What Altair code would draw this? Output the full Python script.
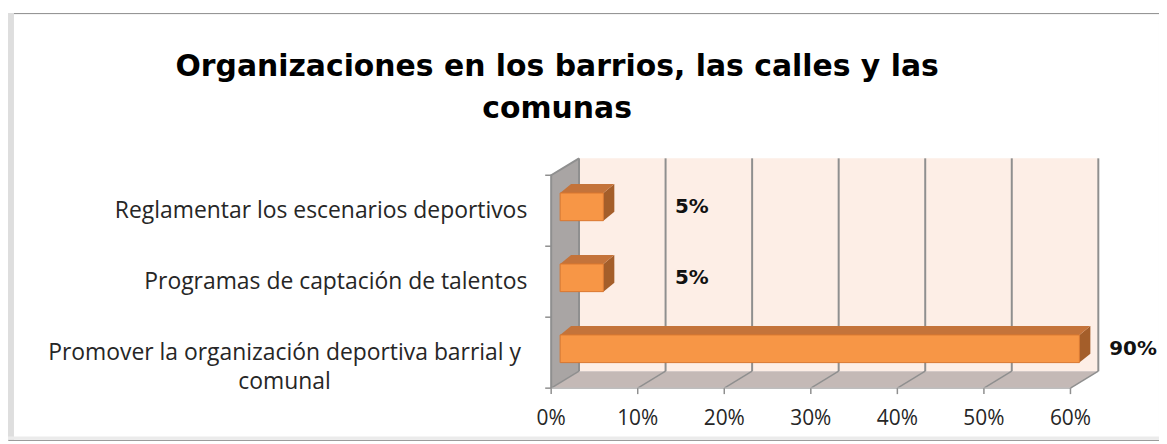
import altair as alt
import pandas as pd

# ---------------- data ----------------
categories = [
    "Reglamentar los escenarios deportivos",
    "Programas de captación de talentos",
    "Promover la organización deportiva barrial y\ncomunal",
]
values = [5, 5, 90]
value_labels = ["5%", "5%", "90%"]
x_ticks = [0, 10, 20, 30, 40, 50, 60]
x_tick_labels = ["0%", "10%", "20%", "30%", "40%", "50%", "60%"]
title_lines = ["Organizaciones en los barrios, las calles y las", "comunas"]

# ---------------- layout (page pixels) ----------------
LEFT, TOP = 8, 12
W, H = 1157, 429
X0_PX, XMAX_PX = 554, 1076
Y0_PX, YTOP_PX = 389, 175
AXIS_MAX = x_ticks[-1]
N = len(categories)
PX_X = (XMAX_PX - X0_PX) / AXIS_MAX
PX_Y = (Y0_PX - YTOP_PX) / N
xdom = [(LEFT - X0_PX) / PX_X, (LEFT + W - X0_PX) / PX_X]
ydom = [(Y0_PX - (TOP + H)) / PX_Y, (Y0_PX - TOP) / PX_Y]
xs = alt.Scale(domain=xdom, nice=False, zero=False)
ys = alt.Scale(domain=ydom, nice=False, zero=False)

DX, DY = 28 / PX_X, 17 / PX_Y          # wall depth
BX = 9 / PX_X                          # bar front offset
BY0, BY1 = 0.36, 0.75                  # bar within band
TDX, TDY = 11 / PX_X, 9 / PX_Y         # bar depth

ORANGE = "#F79646"
TOPC = "#C4733A"
SIDEC = "#A45E2A"
WALL = "#FDEEE6"
LWALL = "#A9A5A4"
FLOOR = "#C4B9B6"
GRID = "#8F8F8F"
TEXT = "#262626"

def X(field, **kw):
    return alt.X(field, type="quantitative", scale=xs, axis=None, **kw)

def Y(field, **kw):
    return alt.Y(field, type="quantitative", scale=ys, axis=None, **kw)

# ---------------- tables ----------------
rows = []
for k, (c, v, lab) in enumerate(zip(categories, values, value_labels)):
    i = N - 1 - k
    shown = min(v, AXIS_MAX)
    rows.append(dict(cat=c, value=v, lab=lab, i=i, shown=shown,
                     x0=BX, x1=BX + shown, y0=i + BY0, y1=i + BY1,
                     ym=i + (BY0 + BY1) / 2, xe=BX + shown + TDX, yc=i + 0.5))
bars = pd.DataFrame(rows)

top_rows, side_rows = [], []
for r in rows:
    top_rows.append(dict(cat=r["cat"], y=r["y1"], xa=r["x0"], xb=r["x1"]))
    top_rows.append(dict(cat=r["cat"], y=r["y1"] + TDY, xa=r["x0"] + TDX, xb=r["x1"] + TDX))
    side_rows.append(dict(cat=r["cat"], x=r["x1"], ya=r["y0"], yb=r["y1"]))
    side_rows.append(dict(cat=r["cat"], x=r["x1"] + TDX, ya=r["y0"] + TDY, yb=r["y1"] + TDY))
tops = pd.DataFrame(top_rows)
sides = pd.DataFrame(side_rows)

ticks = pd.DataFrame({"t": x_ticks, "lab": x_tick_labels})
bands = pd.DataFrame({"b": list(range(N + 1))})
one = pd.DataFrame({"a": [0]})

# ---------------- chart frame shadow ----------------
shadow = alt.Chart(one).mark_rule(color="#DEDEDE", strokeWidth=6).encode(
    x=alt.value(3), y=alt.value(0), y2=alt.value(H))
shadow_b = alt.Chart(one).mark_rule(color="#EBEBEB", strokeWidth=3).encode(
    x=alt.value(0), x2=alt.value(W), y=alt.value(H - 2))

# ---------------- walls ----------------
back_wall = alt.Chart(one).mark_rect(color=WALL).encode(
    x=alt.datum(DX, type="quantitative", scale=xs, axis=None),
    x2=alt.datum(AXIS_MAX + DX),
    y=alt.datum(DY, type="quantitative", scale=ys, axis=None),
    y2=alt.datum(N + DY),
)

left_wall = alt.Chart(pd.DataFrame({"x": [0, DX], "ya": [0, DY], "yb": [N, N + DY]})).mark_area(
    color=LWALL, orient="vertical").encode(x=X("x"), y=Y("ya"), y2="yb")

floor = alt.Chart(pd.DataFrame({"y": [0, DY], "xa": [0, DX], "xb": [AXIS_MAX, AXIS_MAX + DX]})).mark_area(
    color=FLOOR, orient="horizontal").encode(y=Y("y"), x=X("xa"), x2="xb")

back_grid = alt.Chart(ticks).transform_calculate(xg=f"datum.t + {DX}").mark_rule(
    color=GRID, strokeWidth=2).encode(
    x=X("xg:Q"),
    y=alt.datum(DY, type="quantitative", scale=ys, axis=None),
    y2=alt.datum(N + DY),
)

floor_diag = alt.Chart(ticks).transform_calculate(xg=f"datum.t + {DX}").mark_rule(
    color=GRID, strokeWidth=1.5).encode(
    x=X("t"), x2="xg:Q",
    y=alt.datum(0, type="quantitative", scale=ys, axis=None), y2=alt.datum(DY))

x_tick_marks = alt.Chart(ticks).mark_rule(color=GRID, strokeWidth=1.5).encode(
    x=X("t"),
    y=alt.datum(0, type="quantitative", scale=ys, axis=None),
    y2=alt.datum(-6 / PX_Y))

x_tick_text = alt.Chart(ticks).mark_text(
    align="center", baseline="middle", dy=31, font="Open Sans", fontSize=21, color=TEXT).encode(
    x=X("t"), y=alt.datum(0, type="quantitative", scale=ys, axis=None), text="lab:N")

front_floor_edge = alt.Chart(one).mark_rule(color="#BDBDBD", strokeWidth=1.5).encode(
    x=alt.datum(0, type="quantitative", scale=xs, axis=None), x2=alt.datum(AXIS_MAX),
    y=alt.datum(0, type="quantitative", scale=ys, axis=None))

left_edges = alt.Chart(pd.DataFrame({"x": [DX, 0, 0], "y": [N + DY, N, 0], "o": [0, 1, 2]})).mark_line(
    color=GRID, strokeWidth=2).encode(x=X("x"), y=Y("y"), order="o:O")

y_ticks = alt.Chart(bands).mark_rule(color=GRID, strokeWidth=1.5).encode(
    y=Y("b"), x=alt.datum(-6 / PX_X, type="quantitative", scale=xs, axis=None), x2=alt.datum(0))

# ---------------- bars ----------------
side_faces = alt.Chart(sides).mark_area(color=SIDEC, orient="vertical").encode(
    x=X("x"), y=Y("ya"), y2="yb", detail="cat:N")
top_faces = alt.Chart(tops).mark_area(color=TOPC, orient="horizontal").encode(
    y=Y("y"), x=X("xa"), x2="xb", detail="cat:N")
front_faces = alt.Chart(bars).mark_rect(color=ORANGE, stroke="#D9772F", strokeWidth=1).encode(
    x=X("x0"), x2="x1", y=Y("y0"), y2="y1")

# ---------------- labels ----------------
val_in = alt.Chart(bars).transform_filter(f"datum.value <= {AXIS_MAX}").mark_text(
    align="left", baseline="middle", dx=61, font="DejaVu Sans", fontWeight="bold", fontSize=20,
    color="#111").encode(x=X("xe"), y=Y("ym"), text="lab:N")
val_out = alt.Chart(bars).transform_filter(f"datum.value > {AXIS_MAX}").mark_text(
    align="left", baseline="middle", dx=19, font="DejaVu Sans", fontWeight="bold", fontSize=20,
    color="#111").encode(x=X("xe"), y=Y("ym"), text="lab:N")

single = bars[~bars["cat"].str.contains("\n")]
multi = bars[bars["cat"].str.contains("\n")]
cat_single = alt.Chart(single).mark_text(
    align="right", baseline="middle", dx=-24, font="Open Sans", fontSize=23, color=TEXT).encode(
    x=alt.datum(0, type="quantitative", scale=xs, axis=None), y=Y("yc"), text="cat:N")
cat_multi = alt.Chart(multi).mark_text(
    align="center", baseline="middle", dx=-268, font="Open Sans", fontSize=23, color=TEXT,
    lineBreak="\n", lineHeight=30).encode(
    x=alt.datum(0, type="quantitative", scale=xs, axis=None), y=Y("yc"), text="cat:N")

title = alt.Chart(pd.DataFrame({"t": ["\n".join(title_lines)]})).mark_text(
    align="center", baseline="alphabetic", font="DejaVu Sans", fontWeight="bold", fontSize=30,
    color="#000", lineBreak="\n", lineHeight=42).encode(
    x=alt.value(560 - LEFT), y=alt.value(75 - TOP), text="t:N")

chart = alt.layer(
    shadow, shadow_b, back_wall, left_wall, floor, back_grid, floor_diag, front_floor_edge, left_edges,
    y_ticks, x_tick_marks, x_tick_text, side_faces, top_faces, front_faces,
    val_in, val_out, cat_single, cat_multi, title,
).properties(
    width=W, height=H,
    autosize=alt.AutoSizeParams(type="none"),
    padding={"left": 0, "top": TOP - 8, "right": 0, "bottom": 0},
).configure_view(stroke="#8A8A8A", strokeWidth=1)

chart.save("out.html", embed_options={"renderer": "svg", "actions": False})
